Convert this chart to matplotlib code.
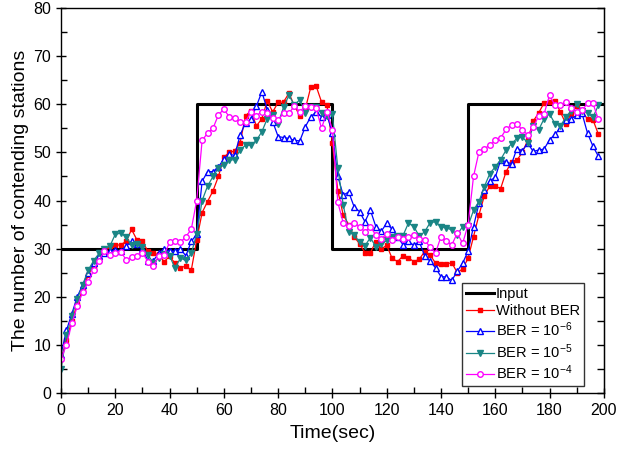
import numpy as np
import matplotlib
matplotlib.use("Agg")
import matplotlib.pyplot as plt
from matplotlib.ticker import MultipleLocator

plt.rcParams['font.family'] = ['Liberation Sans', 'DejaVu Sans']
plt.rcParams['mathtext.fontset'] = 'custom'
plt.rcParams['mathtext.rm'] = 'Liberation Sans'
plt.rcParams['mathtext.default'] = 'regular'

# time samples (sec)
time = np.arange(0, 200, 2)

# offered load
input_t = [0, 50, 50, 100, 100, 150, 150, 200]
input_n = [30, 30, 60, 60, 30, 30, 60, 60]

without_ber = [7, 11, 15, 18.5, 21.5, 24.5, 26.5, 28, 29.5,
               30.5, 30.7, 30.8, 31.5, 34, 31.8, 31.5, 29.5, 29, 28.8, 27.3, 28.4, 27, 26, 26.4, 25.5,
               31.8, 37.5, 39.8, 42, 45, 49, 50, 50.3, 52, 57.6, 58.7, 55.5, 57, 60.7, 58.4, 60.4,
               60.5, 62.3, 59.7, 57.6, 59, 63.5, 63.8, 60.5, 59.8,
               52, 42, 37, 35, 32.5, 31, 29.2, 29.2, 31.4, 29.9, 30.7, 28, 27.3, 28.5, 28.1, 27.3,
               27.8, 29.4, 28.7, 27, 26.8, 26.8, 27.1, 25, 25.8,
               28, 32.5, 37, 41, 43, 43, 42.5, 46, 48, 48.4, 50, 52.6, 56.5, 58.2, 60.3, 60.4,
               60.7, 58.4, 56, 58, 59.6, 58.4, 57, 56.8, 53.8]

ber_1e6 = [8, 13, 16.5, 20, 22.5, 25, 27, 28.5, 29,
           29.5, 29.8, 29.5, 30.5, 31.5, 31, 30, 27.5, 27.5, 29, 30, 29.5, 29.5, 30, 28.5, 31.5,
           33, 44, 46, 46, 47, 48.6, 49.6, 49.4,
           53.6, 56.2, 56.9, 59.6, 62.6, 58.9, 56.4, 53.3, 53.1, 52.9, 52.5, 52.4, 55.3, 57.4,
           58.4, 57.4, 57.8,
           54, 45, 41.1, 41.8, 38.7, 37.7, 35.6, 38, 34.6, 33.6, 35.3, 34, 32.5, 30.8, 31.5, 30.7,
           31.5, 28.5, 27.4, 26, 24.2, 24.1, 23.4, 25.3, 27,
           29.5, 34.6, 39.4, 42.2, 44.1, 44.8, 48.4, 48.1, 47.6, 50.8, 50.4, 51.9, 50.2, 50.5,
           50.7, 52.6, 53.8, 55, 56.8, 57, 57.7, 58.1, 54, 51.3, 49.2]

ber_1e5 = [5, 12, 16, 19.5, 22.5, 25.5, 27.5, 29, 30,
           30.5, 33, 33.2, 32.5, 30.7, 31, 30.3, 28.7, 27.1, 28, 28.9, 28.5, 26, 28, 27.6, 29,
           33, 40, 43, 45, 46.8, 47.3, 48.4, 48.5,
           50.5, 51.5, 51.5, 52.5, 54.3, 57, 57.8, 56, 59.4, 61.9, 59.8, 61, 58.1, 59.4, 59.4,
           58.1, 57.6,
           58, 46.7, 39.1, 33.5, 32.8, 31.4, 30.6, 32.3, 30.4, 30.9, 31.7, 32.4, 32.7, 32.7, 35.3,
           34.6, 32.6, 33.5, 35.4, 35.6, 34.6, 34.3, 33.9, 32.9, 34.6,
           34.7, 38, 39.8, 42.9, 45.6, 47, 48.5, 50.5, 51.8, 52.9, 53.2, 52, 55.5, 54.7, 57, 58,
           56, 55.5, 57.3, 58.7, 60, 58.7, 58.2, 57.3, 59.8]

ber_1e4 = [7, 10, 14.5, 18, 21, 23, 25.5, 27.5, 29.5,
           28.7, 29.2, 29.4, 27.7, 28.2, 28.4, 29.2, 27.3, 26.4, 28.4, 28.7, 31.3, 31.5, 31.3,
           32.5, 34,
           40, 52.5, 54, 55, 57.8, 59, 57.4, 57.1, 56.4, 56.4, 58.4, 57.6, 58.5, 58.1, 57.1, 56.8,
           58.1, 58.2, 59.6, 58.5, 59.6, 59.4, 59.2, 55, 58.5,
           54.7, 39.6, 35.4, 34.7, 35.4, 34.6, 33.5, 34.6, 32.8, 32.1, 33, 31.9, 32.5, 32.1, 32.5,
           32.8, 32.1, 31.8, 30.3, 29.1, 32.5, 31.5, 30.8, 33.2, 31.1,
           35, 45, 50.1, 50.8, 51.5, 52.5, 53, 54.8, 55.7, 56, 54.6, 53.7, 55.2, 57.6, 58, 61.9,
           59.8, 59.8, 60.5, 59.2, 58.5, 58.8, 60.2, 60.2, 56.9]

fig = plt.figure(figsize=(6.18, 4.49), dpi=100)
ax = fig.add_axes([0.0987, 0.1247, 0.8783, 0.8573])

ax.plot(input_t, input_n, color='black', linewidth=2.2, label='Input')
ax.plot(time, without_ber, color='#ff0000', linewidth=0.9, marker='s', markersize=3.3,
        markeredgecolor='#ff0000', markerfacecolor='#ff0000', label='Without BER')
ax.plot(time, ber_1e6, color='#0000ff', linewidth=0.9, marker='^', markersize=4.3,
        markeredgecolor='#0000ff', markerfacecolor='white', label='BER = 10$^{-6}$')
ax.plot(time, ber_1e5, color='#1a8585', linewidth=0.9, marker='v', markersize=4.3,
        markeredgecolor='#1a8585', markerfacecolor='#1a8585', label='BER = 10$^{-5}$')
ax.plot(time, ber_1e4, color='#ff00ff', linewidth=0.9, marker='o', markersize=4,
        markeredgecolor='#ff00ff', markerfacecolor='white', label='BER = 10$^{-4}$')

ax.set_xlim(0, 200)
ax.set_ylim(0, 80)
ax.xaxis.set_major_locator(MultipleLocator(20))
ax.xaxis.set_minor_locator(MultipleLocator(10))
ax.yaxis.set_major_locator(MultipleLocator(10))
ax.yaxis.set_minor_locator(MultipleLocator(5))
ax.tick_params(which='major', direction='inout', length=7, width=1, labelsize=11.5)
ax.tick_params(which='minor', direction='in', length=4, width=1)

# right axis ticks, pointing inward
sec = ax.secondary_yaxis('right')
sec.yaxis.set_major_locator(MultipleLocator(10))
sec.yaxis.set_minor_locator(MultipleLocator(5))
sec.tick_params(which='major', direction='in', length=5, width=1, labelright=False)
sec.tick_params(which='minor', direction='in', length=5, width=1)

for s in ax.spines.values():
    s.set_linewidth(1)

ax.set_xlabel('Time(sec)', fontsize=14, labelpad=5)
ax.set_ylabel('The number of contending stations', fontsize=14, labelpad=3)

leg = ax.legend(loc='lower right', bbox_to_anchor=(0.963, 0.018), fontsize=10.5,
                frameon=True, fancybox=False, edgecolor='black', handlelength=1.9,
                handletextpad=0.15, borderpad=0.25, labelspacing=0.2, borderaxespad=0)
leg.get_frame().set_linewidth(1)

fig.savefig('out.png', dpi=100)
